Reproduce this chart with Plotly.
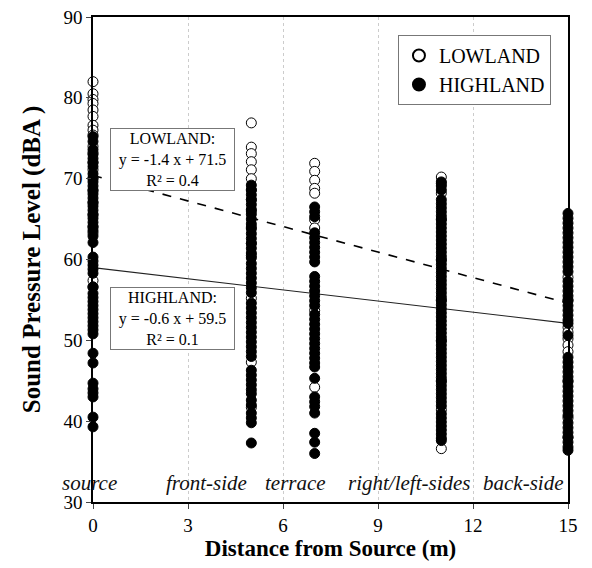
import plotly.graph_objects as go

# ---------------- data ----------------
locations = [0, 5, 7, 11, 15]
category_labels = ["source", "front-side", "terrace", "right/left-sides", "back-side"]
category_label_x = [-0.1, 3.57, 6.4, 10.0, 13.58]
category_label_y = 32.3

low_0 = [82.0, 80.5, 79.8, 79.3, 78.5, 77.7, 76.6, 76.0, 75.4, 74.0, 73.2, 72.0, 71.1, 70.0,
         68.5, 67.0, 65.5, 64.0, 63.3, 57.4, 56.6]
high_0 = [75.2, 74.6, 73.6, 73.0, 72.5, 72.0, 71.5, 70.6, 70.1, 69.6, 69.1, 68.6, 68.1, 67.6,
          67.1, 66.6, 66.1, 65.6, 65.1, 64.6, 64.1, 63.6, 62.9, 62.1, 60.3, 59.8, 59.3, 58.8,
          58.3, 56.6, 55.8, 55.3, 54.8, 54.3, 53.8, 53.3, 52.8, 52.3, 51.8, 51.3, 50.8, 48.4,
          47.2, 44.7, 44.0, 43.5, 43.0, 40.5, 39.3]

low_5 = [76.9, 73.9, 73.1, 72.1, 71.1, 70.0, 68.6, 67.4, 66.0, 64.0, 62.0, 60.5, 55.2, 47.3, 41.7]
high_5 = [69.2, 68.6, 68.0, 67.4, 66.8, 66.2, 65.6, 65.0, 64.4, 63.8, 63.2, 62.6, 62.0, 61.4,
          60.8, 60.2, 59.5, 58.9, 58.3, 57.7, 57.1, 56.5, 55.9, 54.6, 54.0, 53.4, 52.8, 52.2,
          51.6, 51.0, 50.4, 49.8, 49.2, 48.6, 48.0, 46.3, 45.7, 45.1, 44.5, 43.9, 43.4, 42.6,
          42.0, 41.0, 40.4, 39.8, 37.3]

low_7 = [71.9, 70.9, 69.8, 68.8, 68.2, 64.9, 63.9, 53.7, 44.2]
high_7 = [66.5, 65.9, 65.3, 63.3, 62.7, 62.1, 61.5, 60.9, 60.3, 59.7, 57.9, 57.3, 56.7, 56.1,
          55.5, 54.9, 54.3, 53.2, 52.6, 52.0, 51.4, 50.8, 50.2, 49.6, 49.0, 48.4, 47.8, 47.2,
          46.7, 45.3, 43.0, 42.4, 41.8, 41.0, 38.5, 37.4, 36.0]

low_11 = [70.2, 69.4, 68.2, 65.0, 60.0, 55.0, 50.0, 45.0, 41.4, 36.6]
high_11 = [69.6, 69.1, 68.6, 67.4, 66.9, 66.4, 65.9, 65.4, 64.9, 64.4, 63.9, 63.4, 62.9, 62.4,
           61.9, 61.4, 60.9, 60.4, 59.9, 59.4, 58.9, 58.4, 57.9, 57.4, 56.9, 56.4, 55.9, 55.4,
           54.9, 54.4, 53.9, 53.4, 52.9, 52.4, 51.9, 51.4, 50.9, 50.4, 49.9, 49.4, 48.9, 48.4,
           47.9, 47.4, 46.9, 46.4, 45.9, 45.4, 44.9, 44.4, 43.9, 43.4, 42.9, 42.4, 41.9, 40.9,
           40.4, 39.9, 39.4, 38.9, 38.4, 37.9, 37.6]

low_15 = [57.8, 55.0, 51.6, 51.0, 50.2, 49.4, 48.6, 45.0, 40.4, 38.0]
high_15 = [65.7, 65.1, 64.5, 63.9, 63.3, 62.7, 62.1, 61.5, 60.9, 60.3, 59.7, 59.1, 58.5, 57.3,
           56.7, 56.1, 55.5, 54.9, 54.3, 53.7, 53.1, 52.5, 52.1, 50.6, 47.9, 47.3, 46.7, 46.1,
           45.5, 44.9, 44.3, 43.7, 43.1, 42.5, 41.9, 41.3, 40.7, 39.8, 39.2, 38.6, 38.0, 37.4,
           36.8, 36.4]

lowland_values = [low_0, low_5, low_7, low_11, low_15]
highland_values = [high_0, high_5, high_7, high_11, high_15]

trend_x = [0, 15]
lowland_trend = [70.4, 54.6]
highland_trend = [59.0, 52.1]

lowland_eq = "LOWLAND:<br>y = -1.4 x + 71.5<br>R² = 0.4"
highland_eq = "HIGHLAND:<br>y = -0.6 x + 59.5<br>R² = 0.1"

x_ticks = [0, 3, 6, 9, 12, 15]
y_ticks = [30, 40, 50, 60, 70, 80, 90]
X_RANGE = [0, 15]

# ---------------- figure ----------------
FONT = "Liberation Serif"

def flatten(groups):
    xs, ys = [], []
    for loc, vals in zip(locations, groups):
        xs += [loc] * len(vals)
        ys += vals
    return xs, ys

lx, ly = flatten(lowland_values)
hx, hy = flatten(highland_values)

fig = go.Figure()
fig.add_trace(go.Scatter(
    x=trend_x, y=lowland_trend, mode="lines", showlegend=False,
    line=dict(color="black", width=1.6, dash="dash"), hoverinfo="skip"))
fig.add_trace(go.Scatter(
    x=trend_x, y=highland_trend, mode="lines", showlegend=False,
    line=dict(color="#222222", width=1.1), hoverinfo="skip"))
fig.add_trace(go.Scatter(
    x=lx, y=ly, mode="markers", name="LOWLAND", cliponaxis=False,
    marker=dict(symbol="circle", size=10, color="white",
                line=dict(color="black", width=1))))
fig.add_trace(go.Scatter(
    x=hx, y=hy, mode="markers", name="HIGHLAND", cliponaxis=False,
    marker=dict(symbol="circle", size=10, color="black",
                line=dict(color="black", width=1))))

span = X_RANGE[1] - X_RANGE[0]
annotations = []
for txt, xv in zip(category_labels, category_label_x):
    annotations.append(dict(x=(xv - X_RANGE[0]) / span, y=category_label_y, xref="paper", yref="y",
                            xanchor="center", yanchor="middle",
                            text=f"<i>{txt}</i>", showarrow=False,
                            font=dict(family=FONT, size=21, color="#111")))
for txt, yv in [(lowland_eq, 72.4), (highland_eq, 52.7)]:
    annotations.append(dict(x=2.5, y=yv, xref="x", yref="y", text=txt, showarrow=False,
                            font=dict(family=FONT, size=16, color="black"), bgcolor="white",
                            bordercolor="#777", borderwidth=1, borderpad=1, width=121,
                            align="center"))

fig.update_layout(
    width=592, height=568,
    margin=dict(l=85, r=32, t=9, b=74),
    paper_bgcolor="white", plot_bgcolor="white",
    font=dict(family=FONT, color="black"),
    legend=dict(x=0.642, y=0.963, xanchor="left", yanchor="top",
                bgcolor="white", bordercolor="#777", borderwidth=1,
                font=dict(family=FONT, size=20, color="black"),
                itemsizing="constant", tracegroupgap=0, itemwidth=30),
    annotations=annotations,
    xaxis=dict(range=X_RANGE, tickvals=x_ticks, ticks="outside", ticklen=5,
               tickfont=dict(family=FONT, size=19), showline=True, linecolor="black",
               linewidth=1.5, mirror=True, showgrid=True, gridcolor="#cccccc",
               griddash="dot", gridwidth=1, zeroline=False, automargin=False,
               ticklabeloverflow="allow",
               title=dict(text="<b>Distance from Source (m)</b>",
                          font=dict(family=FONT, size=23), standoff=4)),
    yaxis=dict(range=[30, 90], tickvals=y_ticks, ticks="outside", ticklen=5,
               tickfont=dict(family=FONT, size=19), showline=True, linecolor="black",
               linewidth=1.5, mirror=True, showgrid=False, zeroline=False, automargin=False,
               ticklabeloverflow="allow",
               title=dict(text="<b>Sound Pressure Level (dBA )</b>",
                          font=dict(family=FONT, size=25), standoff=16)),
)

fig.write_html("out.html")
